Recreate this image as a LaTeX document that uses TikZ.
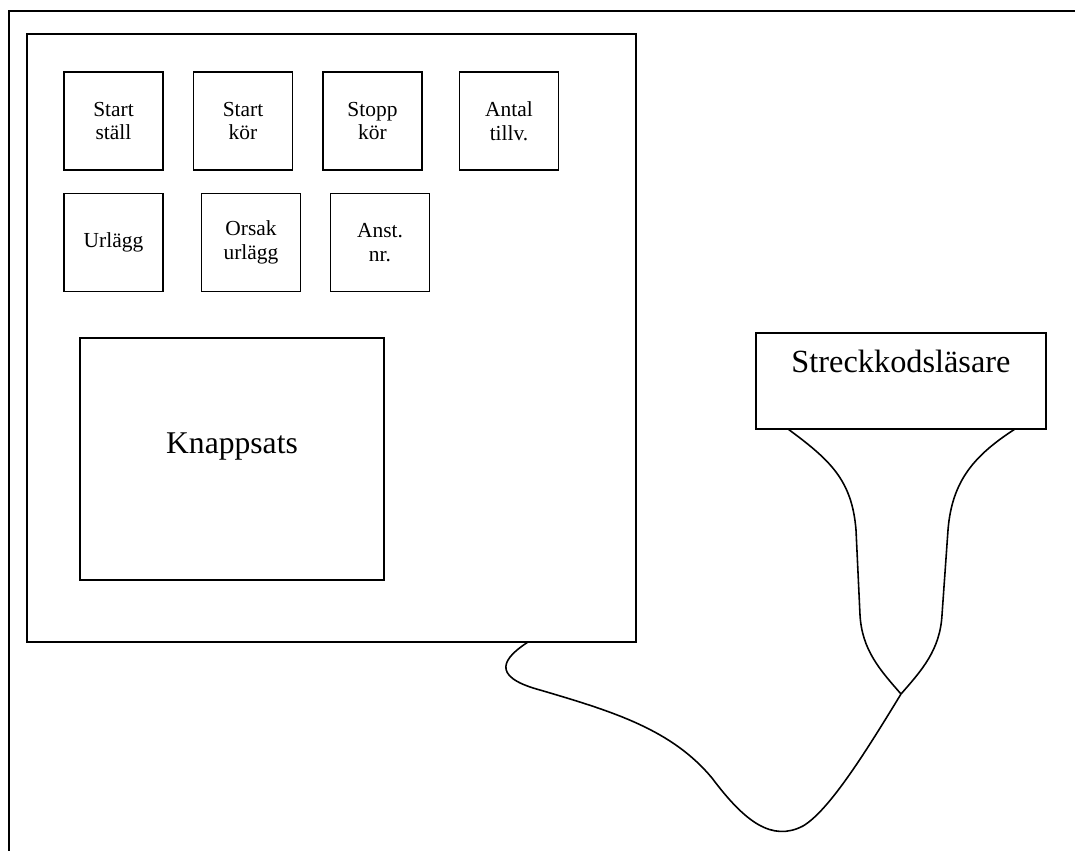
\documentclass[tikz,border=0pt]{standalone}
\usepackage{fontspec}
\setmainfont{Liberation Serif}
\usepackage{tikz}

\begin{document}
\begin{tikzpicture}[
		x=0.02cm, y=-0.02cm,
		box/.style={rectangle, draw=black, line width=1.1pt, inner sep=0pt},
		button/.style={box, minimum width=1.98cm, minimum height=1.96cm, align=center, font=\fontsize{12.2}{13.6}\selectfont},
		bigtext/.style={inner sep=0pt, font=\fontsize{18}{21}\selectfont},
		cable/.style={draw=black, line width=0.9pt}
	]
		\useasboundingbox (0,0) rectangle (1075,851);
		% frame
		\draw[line width=1.1pt] (1075,11) -- (9,11) -- (9,851);

		% terminal with buttons and keypad
		\node[box, minimum width=12.18cm, minimum height=12.16cm](panel) at (331.5,338){};
		\node[button](btn-1) at (113.5,121){Start\\ställ};
		\node[button](btn-2) at (243,121){Start\\kör};
		\node[button](btn-3) at (372.5,121){Stopp\\kör};
		\node[button](btn-4) at (509,121){Antal\\tillv.};
		\node[button](btn-5) at (113.5,242.5){Urlägg};
		\node[button](btn-6) at (251,242.5){Orsak\\urlägg};
		\node[button](btn-7) at (380,242.5){Anst.\\nr.};
		\node[box, minimum width=6.08cm, minimum height=4.84cm](keypad) at (232,459){};
		\node[bigtext, anchor=base](keypad-label) at (232,453){Knappsats};

		% barcode reader
		\node[box, minimum width=5.8cm, minimum height=1.92cm](reader) at (901,381){};
		\node[bigtext, font=\fontsize{18.4}{21}\selectfont, anchor=base](reader-label) at (901,372){Streckkodsläsare};

		% cable
		\coordinate (cable-top) at (528,642);
		\coordinate (joint) at (901,694);
		\coordinate (reader-l) at (788,429);
		\coordinate (reader-r) at (1015,429);
		\draw[cable] (cable-top) .. controls (505,657) and (488,676) .. (540,690)
			.. controls (615,712) and (672,730) .. (712,778)
			.. controls (745,822) and (772,842) .. (803,826)
			.. controls (830,810) and (868,748) .. (joint);
		\draw[cable] (joint) .. controls (880,670) and (862,650) .. (860,615)
			-- (856,530) .. controls (852,480) and (830,460) .. (reader-l);
		\draw[cable] (joint) .. controls (922,670) and (940,650) .. (942,615)
			-- (948,530) .. controls (952,480) and (975,455) .. (reader-r);
	\end{tikzpicture}
\end{document}
